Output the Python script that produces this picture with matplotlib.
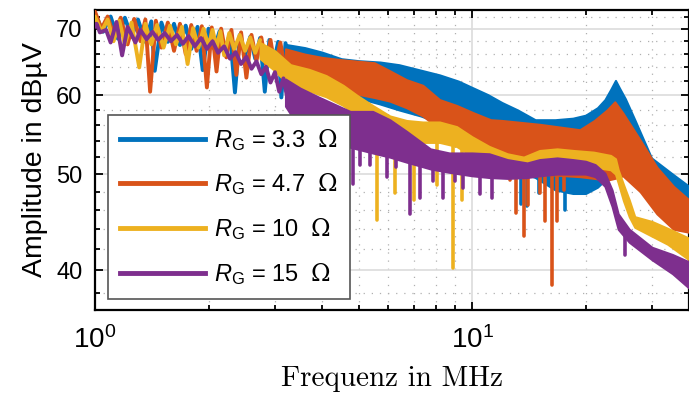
import numpy as np
import matplotlib
matplotlib.use('Agg')
import matplotlib.pyplot as plt
from matplotlib.ticker import FixedLocator, NullFormatter, FixedFormatter, LogFormatterSciNotation

plt.rcParams['font.family'] = ['Liberation Sans', 'DejaVu Sans']
plt.rcParams['mathtext.fontset'] = 'custom'
plt.rcParams['mathtext.rm'] = 'Liberation Sans'
plt.rcParams['mathtext.it'] = 'Liberation Sans:italic'
plt.rcParams['mathtext.sf'] = 'DejaVu Serif'

colors = ['#0072BD', '#D95319', '#EDB120', '#7E2F8E']
labels = [r'$R_\mathrm{G}$ = 3.3  $\mathsf{\Omega}$', r'$R_\mathrm{G}$ = 4.7  $\mathsf{\Omega}$',
          r'$R_\mathrm{G}$ = 10  $\mathsf{\Omega}$', r'$R_\mathrm{G}$ = 15  $\mathsf{\Omega}$']

# ---- R_G = 3.3 Ohm (MHz / dBuV) ----
zz_f_33 = [1.00,1.05,1.10,1.15,1.20,1.25,1.30,1.36,1.41,1.44,1.50,1.56,1.62,1.68,1.74,1.80,1.87,1.93,
           2.00,2.07,2.14,2.21,2.28,2.35,2.42,2.50,2.58,2.66,2.74,2.82,2.90,2.98,3.06,3.12,3.20,3.30]
zz_v_33 = [72.5,69.5,72.0,68.4,71.8,68.7,71.5,67.9,71.2,63.5,71.0,67.9,70.8,67.4,70.5,66.8,70.3,63.6,
           70.0,66.8,69.6,66.3,69.3,60.4,69.0,65.8,68.7,65.3,68.5,60.5,68.2,64.8,67.9,59.7,67.7,64.3]
band_f_33 = [3.2,3.6,4.0,4.5,5.0,5.7,6.4,7.3,8.2,9.2,10,11,12,13.2,14.7,16.6,18.5,20,21.5,22.5,23.3,
             24.0,24.6,25.5,27,29.9,34,37.6]
band_hi_33 = [67.5,67.0,66.3,65.3,65.0,64.8,64.4,63.6,62.9,62.0,61.1,60.1,59.0,58.0,56.7,56.7,56.9,57.3,
              58.3,59.4,60.8,62.1,61.0,59.5,56.7,51.9,50.0,48.6]
band_lo_33 = [62.0,61.3,60.8,60.2,59.6,58.8,58.0,57.2,56.3,55.3,54.3,52.5,51.0,50.3,49.6,48.2,47.8,47.8,
              48.5,49.3,50.0,50.5,50.5,50.0,49.0,47.0,46.2,45.8]
dip_f_33 = [13.5,14.0,15.0,17.6,19.6,21.0]
dip_v_33 = [46.6,46.4,47.9,46.0,47.9,48.7]

# ---- R_G = 4.7 Ohm ----
zz_f_47 = [1.00,1.04,1.08,1.12,1.17,1.22,1.27,1.32,1.36,1.40,1.45,1.50,1.56,1.62,1.68,1.74,1.80,1.86,
           1.92,1.98,2.04,2.10,2.16,2.23,2.30,2.37,2.44,2.52,2.60,2.68,2.76,2.84,2.92,3.00,3.10,3.20]
zz_v_47 = [72.8,70.0,72.0,69.0,71.8,67.5,71.6,68.0,71.5,60.5,71.3,67.0,71.0,66.5,70.8,66.0,70.6,66.5,
           70.4,61.1,70.2,63.4,70.0,65.5,69.8,62.9,69.4,62.5,69.0,65.0,68.6,64.5,68.2,64.0,67.8,63.5]
band_f_47 = [3.2,3.6,4.0,4.5,5.5,6.05,6.7,7.4,8.2,9.1,10.1,11.2,12.0,15.1,19.3,21.1,22.8,23.9,25.1,
             27.9,30.9,34.2,37.6]
band_hi_47 = [66.8,66.0,65.5,65.15,64.7,63.5,62.2,61.4,59.4,58.6,57.6,56.7,56.6,56.1,55.4,56.6,58.0,59.1,
              57.6,54.1,50.8,48.6,47.1]
band_lo_47 = [62.5,62.0,61.4,60.6,59.7,59.2,58.3,57.2,55.5,54.4,53.4,52.7,52.0,50.0,49.7,49.5,49.3,49.5,
              49.8,48.0,45.6,44.0,43.7]
dip_f_47 = [12.6,13.1,13.7,14.1,15.1,15.6,16.3,16.8,17.5]
dip_v_47 = [49.3,45.7,43.3,46.5,47.9,44.8,38.7,44.8,48.2]

# ---- R_G = 10 Ohm ----
zz_f_10 = [1.00,1.04,1.08,1.12,1.16,1.20,1.25,1.31,1.36,1.41,1.46,1.52,1.58,1.64,1.70,1.76,1.82,1.88,
           1.94,2.00,2.05,2.10,2.15,2.20,2.27,2.34,2.42,2.50,2.58,2.66,2.74]
zz_v_10 = [72.0,69.5,71.5,68.0,71.3,67.5,71.0,64.0,70.8,67.5,70.6,67.0,70.5,67.5,70.3,64.5,70.1,67.0,
           70.0,67.2,69.8,67.0,69.6,65.8,69.3,66.8,69.0,66.5,68.6,66.2,68.2]
band_f_10 = [2.74,3.0,3.3,3.7,4.1,4.55,4.95,5.45,6.05,6.7,7.4,8.2,9.1,10,11.1,12.4,13.7,15.1,16.8,18.6,
             21,23.3,24.0,24.4,25.2,26.1,27,30,33,37.6]
band_hi_10 = [67.8,66.5,64.4,63.7,62.8,61.4,60.0,58.6,57.2,56.6,56.4,56.4,55.8,54.5,53.3,52.4,52.0,52.8,
              53.0,52.8,52.6,52.2,51.8,50.5,48.8,47.1,45.3,44.8,44.1,43.1]
band_lo_10 = [65.3,63.5,61.2,60.6,59.8,58.6,57.3,56.0,54.6,54.0,53.8,53.8,53.3,52.1,51.3,50.8,50.4,50.8,
              51.0,51.0,50.8,50.5,50.0,49.0,47.0,45.3,44.2,43.3,42.5,41.0]
dip_f_10 = [5.6,6.25,7.0,8.07,8.9,9.4]
dip_v_10 = [45.0,47.9,47.1,48.8,40.2,47.1]

# ---- R_G = 15 Ohm ----
zz_f_15 = [1.00,1.01,1.03,1.07,1.10,1.14,1.18,1.22,1.28,1.32,1.37,1.42,1.47,1.53,1.59,1.65,1.71,1.77,
           1.84,1.91,1.98,2.05,2.12,2.20,2.28,2.36,2.44,2.52,2.60,2.68,2.76,2.84,2.92,3.00,3.08,3.16,3.24]
zz_v_15 = [70.3,70.8,69.4,69.8,67.8,71.1,65.8,70.3,67.8,69.8,68.3,69.5,68.2,69.3,68.0,69.0,67.6,68.8,
           67.2,68.5,66.8,68.0,66.2,67.2,65.3,66.3,64.5,65.6,63.8,64.9,63.0,64.1,61.8,63.3,60.5,62.4,59.5]
band_f_15 = [3.2,3.5,3.9,4.3,4.75,5.45,6.05,6.7,7.75,8.7,10,11.1,12.4,14,15.1,16.8,18.5,20,21.2,22.5,
             23.5,24.4,26.1,30,34,37.6]
band_hi_15 = [62.3,61.0,59.8,58.8,57.8,57.8,56.7,55.2,53.0,52.5,52.5,52.4,51.7,51.3,51.7,51.9,51.7,51.5,
              51.1,50.1,48.2,45.6,44.0,42.2,41.5,40.8]
band_lo_15 = [58.5,55.5,54.5,54.0,53.2,52.5,52.0,51.4,50.6,50.2,49.8,49.6,49.5,49.6,49.8,50.0,50.0,50.0,
              49.7,48.6,46.4,44.0,42.7,41.0,39.7,38.4]
dip_f_15 = [3.4,3.6,3.8,4.0,4.4,4.83,5.05,5.37,5.95,6.3,6.85,7.28,7.9,8.35,9.0,9.45,10.5,11.3,25.4]
dip_v_15 = [54.0,53.5,54.2,53.6,52.3,48.9,51.0,51.1,49.7,50.8,45.6,47.3,49.2,47.3,49.2,48.4,47.7,47.3,41.5]

series = [
    (zz_f_33, zz_v_33, band_f_33, band_hi_33, band_lo_33, dip_f_33, dip_v_33),
    (zz_f_47, zz_v_47, band_f_47, band_hi_47, band_lo_47, dip_f_47, dip_v_47),
    (zz_f_10, zz_v_10, band_f_10, band_hi_10, band_lo_10, dip_f_10, dip_v_10),
    (zz_f_15, zz_v_15, band_f_15, band_hi_15, band_lo_15, dip_f_15, dip_v_15),
]

fig = plt.figure(figsize=(6.89, 3.99), dpi=100)
ax = fig.add_axes([0.1379, 0.2231, 0.8621, 0.7519])
ax.set_xscale('log')
ax.set_yscale('log')

for (zf, zv, bf, bhi, blo, df, dv), c, lab in zip(series, colors, labels):
    ax.fill_between(bf, blo, bhi, color=c, lw=1.5, zorder=3)
    ax.plot(zf, zv, color=c, lw=2.8, solid_joinstyle='round', solid_capstyle='round', zorder=3)
    top = np.interp(df, bf, blo) + 0.8
    ax.vlines(df, dv, top, color=c, lw=2.6, capstyle='round', zorder=3)
    ax.plot([], [], color=c, lw=3.5, label=lab)

ax.set_xlim(1, 37.6)
ax.set_ylim(36.5, 73.1)

ax.xaxis.set_major_locator(FixedLocator([1, 10]))
ax.xaxis.set_major_formatter(LogFormatterSciNotation())
ax.xaxis.set_minor_locator(FixedLocator([2, 3, 4, 5, 6, 7, 8, 9, 20, 30]))
ax.xaxis.set_minor_formatter(NullFormatter())
ax.yaxis.set_major_locator(FixedLocator([40, 50, 60, 70]))
ax.yaxis.set_major_formatter(FixedFormatter(['40', '50', '60', '70']))
ax.yaxis.set_minor_locator(FixedLocator([38, 42, 44, 46, 48, 52, 54, 56, 58, 62, 64, 66, 68, 72]))
ax.yaxis.set_minor_formatter(NullFormatter())

ax.grid(True, which='major', color='#dcdcdc', lw=1.2, zorder=0)
ax.grid(True, which='minor', color='#b0b0b0', lw=0.9, ls=(0, (1, 5.5)), zorder=0)
ax.set_axisbelow(True)

ax.tick_params(which='both', direction='in', top=True, right=True, width=1.3, color='black')
ax.tick_params(which='major', length=6)
ax.tick_params(which='minor', length=3.5)
ax.tick_params(axis='y', labelsize=17, pad=9)
ax.tick_params(axis='x', labelsize=20, pad=12)
for s in ax.spines.values():
    s.set_linewidth(1.6)

ax.set_ylabel('Amplitude in dBµV', fontsize=20.5, labelpad=6)
ax.set_xlabel('Frequenz in MHz', fontsize=21, family='cmr10', labelpad=8)

leg = ax.legend(loc='upper left', bbox_to_anchor=(0.022, 0.65), borderaxespad=0, fontsize=17,
                handlelength=3.6, handletextpad=0.4, labelspacing=0.8, borderpad=0.5,
                fancybox=False, framealpha=1, edgecolor='#555555')
leg.get_frame().set_linewidth(1.2)
leg.set_zorder(5)

fig.savefig('out.png', dpi=100)
